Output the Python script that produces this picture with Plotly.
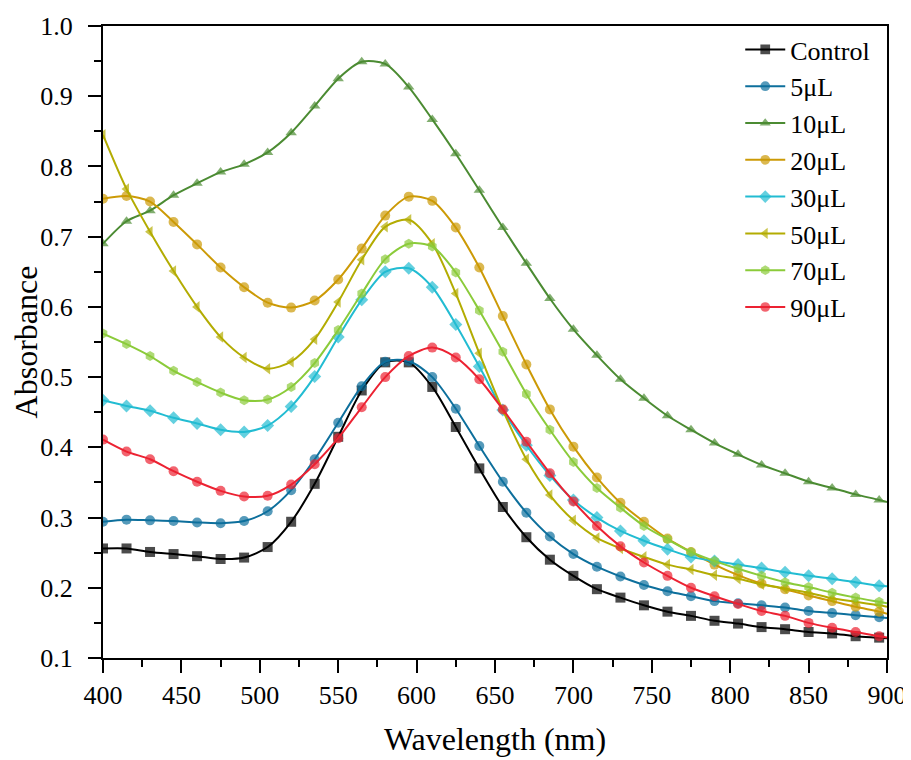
import plotly.graph_objects as go

wavelength = [400 + 15 * i for i in range(34)] + [900]

control = [0.256, 0.256, 0.251, 0.248, 0.245, 0.241, 0.243, 0.258, 0.294, 0.348,
           0.415, 0.481, 0.521, 0.521, 0.486, 0.429, 0.370, 0.315, 0.272, 0.240,
           0.217, 0.198, 0.186, 0.175, 0.166, 0.160, 0.153, 0.149, 0.144, 0.141,
           0.137, 0.135, 0.131, 0.129, 0.128]
ul5 = [0.294, 0.297, 0.296, 0.295, 0.293, 0.292, 0.295, 0.309, 0.339, 0.383,
       0.435, 0.487, 0.522, 0.523, 0.500, 0.455, 0.402, 0.351, 0.307, 0.273,
       0.248, 0.230, 0.216, 0.204, 0.195, 0.188, 0.181, 0.178, 0.175, 0.172,
       0.167, 0.164, 0.161, 0.158, 0.157]
ul10 = [0.690, 0.722, 0.737, 0.759, 0.776, 0.792, 0.803, 0.820, 0.848, 0.886,
        0.925, 0.949, 0.946, 0.913, 0.867, 0.818, 0.766, 0.713, 0.662, 0.612,
        0.568, 0.531, 0.497, 0.470, 0.445, 0.425, 0.406, 0.390, 0.375, 0.363,
        0.351, 0.342, 0.333, 0.325, 0.322]
ul20 = [0.754, 0.758, 0.750, 0.721, 0.689, 0.656, 0.628, 0.606, 0.599, 0.609,
        0.639, 0.683, 0.730, 0.757, 0.751, 0.713, 0.656, 0.587, 0.518, 0.454,
        0.401, 0.357, 0.321, 0.294, 0.270, 0.251, 0.233, 0.218, 0.206, 0.198,
        0.189, 0.181, 0.173, 0.166, 0.163]
ul30 = [0.467, 0.459, 0.452, 0.442, 0.434, 0.425, 0.422, 0.431, 0.458, 0.501,
        0.557, 0.610, 0.650, 0.655, 0.628, 0.575, 0.515, 0.453, 0.403, 0.360,
        0.325, 0.300, 0.281, 0.267, 0.255, 0.244, 0.238, 0.233, 0.228, 0.222,
        0.217, 0.213, 0.208, 0.203, 0.202]
ul50 = [0.845, 0.768, 0.707, 0.651, 0.600, 0.557, 0.528, 0.512, 0.522, 0.554,
        0.607, 0.667, 0.714, 0.724, 0.690, 0.619, 0.534, 0.453, 0.383, 0.332,
        0.296, 0.271, 0.256, 0.244, 0.233, 0.226, 0.218, 0.213, 0.205, 0.199,
        0.193, 0.185, 0.180, 0.175, 0.173]
ul70 = [0.562, 0.547, 0.530, 0.509, 0.493, 0.478, 0.467, 0.468, 0.486, 0.520,
        0.567, 0.619, 0.668, 0.690, 0.686, 0.649, 0.595, 0.536, 0.476, 0.425,
        0.379, 0.342, 0.314, 0.288, 0.269, 0.251, 0.238, 0.227, 0.217, 0.208,
        0.201, 0.193, 0.186, 0.180, 0.178]
ul90 = [0.411, 0.394, 0.383, 0.366, 0.351, 0.338, 0.330, 0.331, 0.347, 0.376,
        0.413, 0.457, 0.500, 0.530, 0.542, 0.528, 0.497, 0.454, 0.408, 0.363,
        0.323, 0.288, 0.259, 0.236, 0.217, 0.200, 0.188, 0.177, 0.167, 0.160,
        0.150, 0.143, 0.137, 0.131, 0.129]

series_names = ["Control", "5μL", "10μL", "20μL", "30μL", "50μL", "70μL", "90μL"]
series_values = [control, ul5, ul10, ul20, ul30, ul50, ul70, ul90]
colors = ["#000000", "#0d6f9c", "#4b8b32", "#cc9a06", "#22bcd2", "#b3ac02", "#8bcb3a", "#ec2232"]
symbols = ["square", "circle", "triangle-up", "circle", "diamond", "triangle-left", "hexagon", "circle"]

fig = go.Figure()
n_pts = len(wavelength)
for name, vals, col, sym in zip(series_names, series_values, colors, symbols):
    sizes = [10] * (n_pts - 1) + [0]
    fig.add_trace(go.Scatter(
        x=wavelength, y=vals, name=name, mode="lines+markers",
        line=dict(color=col, width=2, shape="spline", smoothing=0.8),
        marker=dict(symbol=sym, size=sizes, color=col, line=dict(width=0)),
    ))

font_family = "Liberation Serif, Times New Roman, serif"
# page body adds an 8px offset, so the figure is 8px smaller on each offset side
fig.update_layout(
    width=903, height=752,
    margin=dict(l=95, r=24, t=18, b=102),
    plot_bgcolor="white", paper_bgcolor="white",
    font=dict(family=font_family, size=26, color="black"),
    showlegend=True,
    legend=dict(x=0.985, y=1.0, xanchor="right", yanchor="top",
                bgcolor="rgba(0,0,0,0)", font=dict(size=26, family=font_family),
                tracegroupgap=0, itemwidth=40),
    xaxis=dict(
        range=[400, 900], tickmode="linear", tick0=400, dtick=50,
        showline=True, linecolor="black", linewidth=2, mirror=True,
        ticks="outside", ticklen=13, tickwidth=2, tickcolor="black",
        minor=dict(dtick=25, ticks="outside", ticklen=7, tickwidth=2, tickcolor="black"),
        showgrid=False, zeroline=False, automargin=False,
        title=dict(text="Wavelength (nm)", font=dict(size=32, family=font_family), standoff=18),
        tickfont=dict(size=26, family=font_family),
    ),
    yaxis=dict(
        range=[0.1, 1.0], tickmode="linear", tick0=0.1, dtick=0.1, tickformat=".1f",
        showline=True, linecolor="black", linewidth=2, mirror=True,
        ticks="outside", ticklen=13, tickwidth=2, tickcolor="black",
        minor=dict(dtick=0.05, ticks="outside", ticklen=7, tickwidth=2, tickcolor="black"),
        showgrid=False, zeroline=False, automargin=False, ticklabelstandoff=10,
        title=dict(text="Absorbance", font=dict(size=32, family=font_family), standoff=6),
        tickfont=dict(size=26, family=font_family),
    ),
)

fig.write_html("out.html")
